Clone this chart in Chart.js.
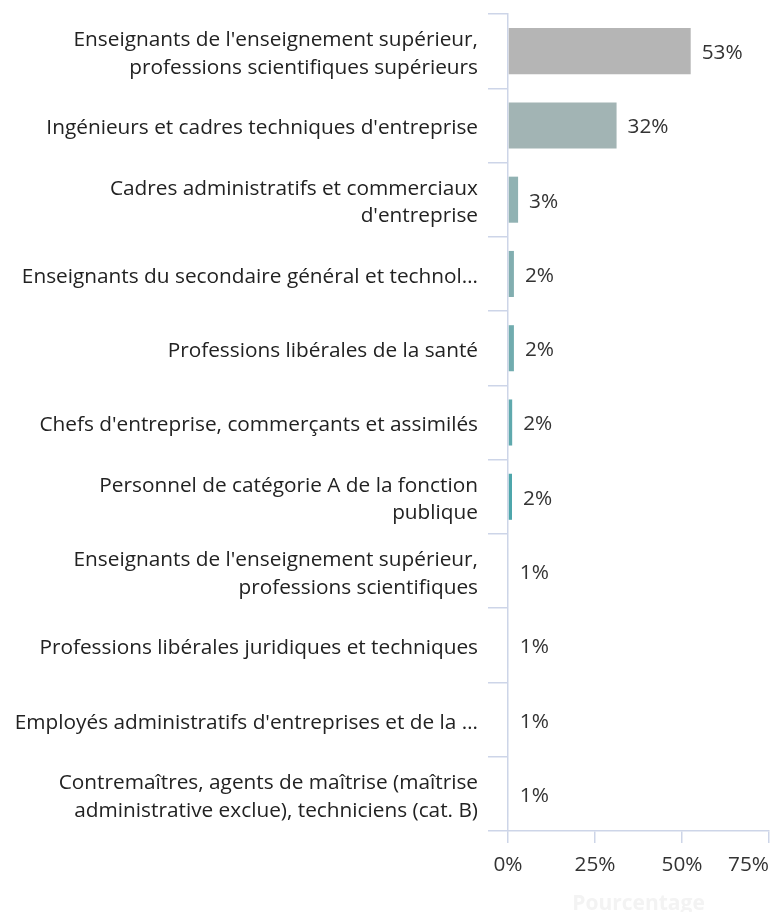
<!DOCTYPE html>
<html>
<head>
<meta charset="utf-8">
<script src="https://cdn.jsdelivr.net/npm/chart.js@4.4.0/dist/chart.umd.min.js"></script>
<style>
    html, body { margin: 0; padding: 0; background: #fff; }
    #wrap { width: 771px; height: 912px; position: relative; }
</style>
</head>
<body>
<div id="wrap"><canvas id="chart"></canvas></div>
<script>
// Categories (multi-line labels as arrays)
const categories = [
    ["Enseignants de l'enseignement supérieur,", "professions scientifiques supérieurs"],
    "Ingénieurs et cadres techniques d'entreprise",
    ["Cadres administratifs et commerciaux", "d'entreprise"],
    "Enseignants du secondaire général et technol…",
    "Professions libérales de la santé",
    "Chefs d'entreprise, commerçants et assimilés",
    ["Personnel de catégorie A de la fonction", "publique"],
    ["Enseignants de l'enseignement supérieur,", "professions scientifiques"],
    "Professions libérales juridiques et techniques",
    "Employés administratifs d'entreprises et de la …",
    ["Contremaîtres, agents de maîtrise (maîtrise", "administrative exclue), techniciens (cat. B)"]
];

// Percentages (bar lengths; the last four are hidden by the axis)
const values = [52.5, 31.2, 2.9, 1.7, 1.7, 1.2, 1.15, 0.22, 0.22, 0.22, 0.22];

// Labels shown at the end of each bar
const valueLabels = ['53%', '32%', '3%', '2%', '2%', '2%', '2%', '1%', '1%', '1%', '1%'];

// Bar colours, grey to teal
const barColors = ['#b5b5b5', '#a2b4b4', '#91b2b3', '#82aeb0', '#71acaf', '#5fa9ad', '#4ea6ab',
                   '#40a2a8', '#40a2a8', '#40a2a8', '#40a2a8'];

// X axis ticks
const xTicks = [0, 25, 50, 75];
const xTitle = 'Pourcentage';

const FONT = '"Open Sans", sans-serif';
const FONT_SIZE = 20.8;
const AXIS_COLOR = '#cdd5e8';

// Draws bar value labels, x tick labels and axis title
const labelsPlugin = {
    id: 'labels',
    afterDraw(chart) {
        const ctx = chart.ctx;
        const meta = chart.getDatasetMeta(0);
        const xScale = chart.scales.x;
        const area = chart.chartArea;
        ctx.save();
        ctx.font = FONT_SIZE + 'px ' + FONT;
        ctx.fillStyle = '#333';
        ctx.textBaseline = 'middle';
        ctx.textAlign = 'left';
        meta.data.forEach((bar, i) => {
            ctx.fillText(valueLabels[i], bar.x + 11, bar.y + 2);
        });

        // x tick labels, kept inside the plot area on the right
        ctx.textAlign = 'center';
        xTicks.forEach(v => {
            const txt = v + '%';
            const w = ctx.measureText(txt).width;
            let x = xScale.getPixelForValue(v);
            if (x + w / 2 > area.right) x = area.right - w / 2;
            ctx.fillText(txt, x, 865);
        });

        // axis title (very faint)
        ctx.font = 'bold 21px ' + FONT;
        ctx.fillStyle = '#f3f3f3';
        ctx.fillText(xTitle, (area.left + area.right) / 2, 904);
        ctx.restore();
    }
};

new Chart(document.getElementById('chart'), {
    type: 'bar',
    data: {
        labels: categories,
        datasets: [{
            data: values,
            backgroundColor: barColors,
            borderWidth: 0,
            inflateAmount: 0,
            categoryPercentage: 1,
            barPercentage: 0.62
        }]
    },
    options: {
        indexAxis: 'y',
        responsive: true,
        maintainAspectRatio: false,
        animation: false,
        layout: {
            padding: { top: 14, right: 2, bottom: 0, left: 0 }
        },
        plugins: {
            legend: { display: false },
            tooltip: { enabled: false }
        },
        scales: {
            x: {
                min: 0,
                max: 75,
                ticks: { display: false, stepSize: 25 },
                grid: {
                    drawOnChartArea: false,
                    drawTicks: true,
                    tickLength: 12,
                    color: AXIS_COLOR,
                    lineWidth: 1.5
                },
                border: { color: AXIS_COLOR, width: 1.5 },
                afterFit(scale) {
                    scale.height = 81;
                    scale.paddingLeft = 0;
                    scale.paddingRight = 0;
                }
            },
            y: {
                ticks: {
                    color: '#222',
                    padding: 10,
                    labelOffset: 3,
                    font: { family: FONT, size: FONT_SIZE, lineHeight: 1.32 }
                },
                grid: {
                    drawOnChartArea: false,
                    drawTicks: true,
                    tickLength: 20,
                    color: AXIS_COLOR,
                    lineWidth: 1.5
                },
                border: { color: AXIS_COLOR, width: 1.5 },
                afterFit(scale) {
                    scale.width = 508;
                    scale.paddingTop = 0;
                    scale.paddingBottom = 0;
                }
            }
        }
    },
    plugins: [labelsPlugin]
});
</script>
</body>
</html>
